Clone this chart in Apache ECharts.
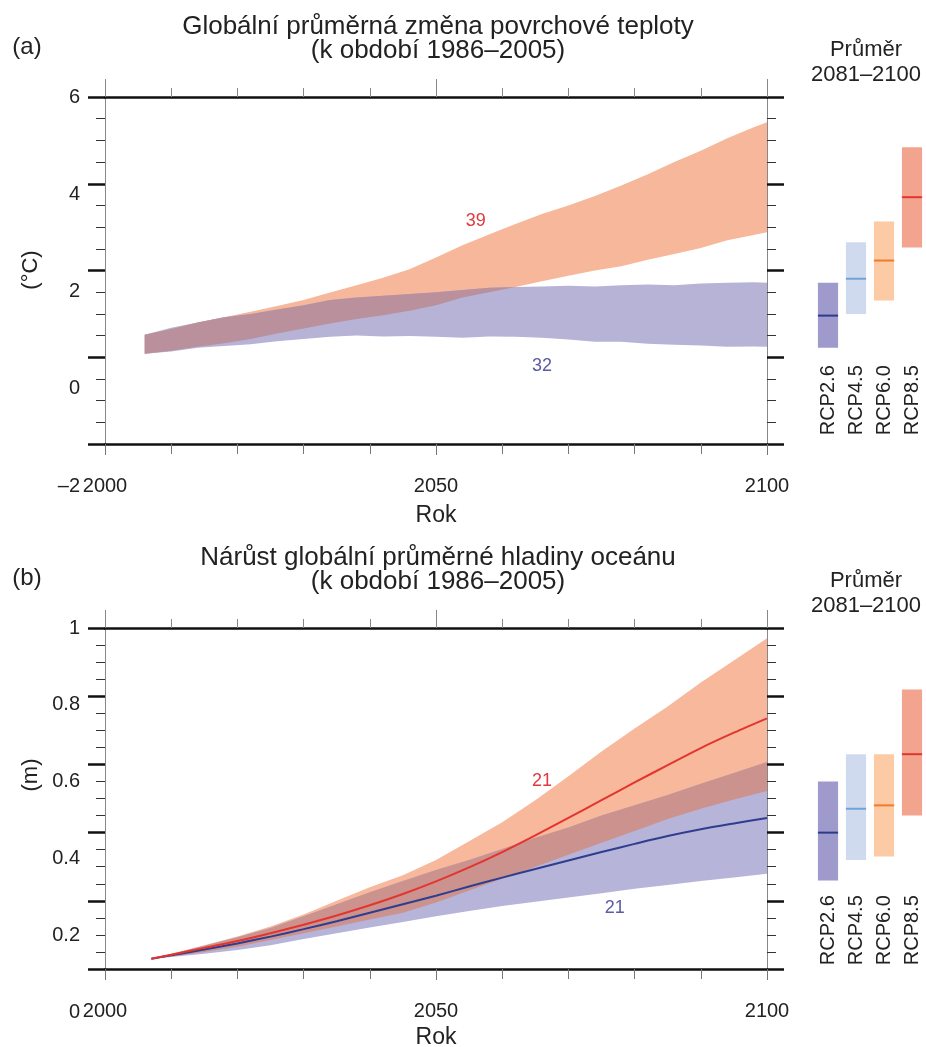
<!DOCTYPE html>
<html>
<head>
<meta charset="utf-8">
<script src="https://cdn.jsdelivr.net/npm/echarts@6/dist/echarts.min.js"></script>
<style>
  html, body { margin: 0; padding: 0; background: #fff; }
  #chart { width: 926px; height: 1047px; }
</style>
</head>
<body>
<div id="chart"></div>
<script>
// (a) temperature bands
const tempYears = [2006, 2010, 2014, 2018, 2022, 2026, 2030, 2034, 2038, 2042, 2046, 2050, 2054, 2058, 2062, 2066, 2070, 2074, 2078, 2082, 2086, 2090, 2094, 2098, 2100];
const rcp85High = [0.52, 0.65, 0.80, 0.92, 1.05, 1.18, 1.32, 1.49, 1.66, 1.83, 2.03, 2.30, 2.58, 2.83, 3.07, 3.30, 3.50, 3.72, 3.96, 4.22, 4.50, 4.76, 5.05, 5.30, 5.42];
const rcp85Low = [0.08, 0.15, 0.24, 0.32, 0.42, 0.55, 0.66, 0.78, 0.88, 0.97, 1.07, 1.20, 1.38, 1.50, 1.62, 1.75, 1.88, 2.00, 2.10, 2.25, 2.38, 2.52, 2.70, 2.82, 2.88];
const rcp26High = [0.52, 0.68, 0.80, 0.92, 1.00, 1.10, 1.20, 1.32, 1.38, 1.42, 1.46, 1.50, 1.55, 1.60, 1.62, 1.63, 1.65, 1.63, 1.66, 1.68, 1.66, 1.70, 1.72, 1.73, 1.72];
const rcp26Low = [0.08, 0.13, 0.22, 0.26, 0.30, 0.37, 0.42, 0.47, 0.50, 0.48, 0.49, 0.47, 0.45, 0.48, 0.47, 0.45, 0.41, 0.36, 0.36, 0.31, 0.29, 0.27, 0.24, 0.25, 0.24];

// (b) sea level bands and means
const slrYears = [2007, 2010, 2015, 2020, 2025, 2030, 2035, 2040, 2045, 2050, 2055, 2060, 2065, 2070, 2075, 2080, 2085, 2090, 2095, 2100];
const slr85Mean = [0.03, 0.042, 0.062, 0.082, 0.105, 0.13, 0.157, 0.187, 0.22, 0.257, 0.298, 0.343, 0.392, 0.443, 0.495, 0.547, 0.598, 0.648, 0.693, 0.735];
const slr85High = [0.03, 0.045, 0.07, 0.095, 0.125, 0.16, 0.20, 0.24, 0.275, 0.32, 0.375, 0.43, 0.495, 0.565, 0.638, 0.705, 0.77, 0.84, 0.905, 0.97];
const slr85Low = [0.03, 0.037, 0.05, 0.065, 0.085, 0.105, 0.125, 0.145, 0.165, 0.195, 0.23, 0.265, 0.30, 0.335, 0.37, 0.405, 0.44, 0.47, 0.497, 0.522];
const slr26Mean = [0.03, 0.04, 0.057, 0.075, 0.095, 0.117, 0.14, 0.165, 0.19, 0.215, 0.242, 0.268, 0.293, 0.318, 0.343, 0.367, 0.39, 0.41, 0.427, 0.443];
const slr26High = [0.03, 0.043, 0.068, 0.093, 0.12, 0.155, 0.19, 0.225, 0.258, 0.29, 0.32, 0.352, 0.385, 0.415, 0.45, 0.48, 0.51, 0.543, 0.575, 0.607];
const slr26Low = [0.03, 0.035, 0.045, 0.056, 0.07, 0.088, 0.105, 0.122, 0.138, 0.155, 0.17, 0.185, 0.197, 0.21, 0.222, 0.235, 0.246, 0.258, 0.268, 0.279];

// 2081-2100 mean bars
const scenarios = ['RCP2.6', 'RCP4.5', 'RCP6.0', 'RCP8.5'];
const tempBarLow = [0.22, 1.0, 1.31, 2.53];
const tempBarMean = [0.96, 1.81, 2.23, 3.69];
const tempBarHigh = [1.72, 2.65, 3.13, 4.84];
const slrBarLow = [0.26, 0.32, 0.33, 0.45];
const slrBarMean = [0.40, 0.47, 0.48, 0.63];
const slrBarHigh = [0.55, 0.63, 0.63, 0.82];

// model counts written in the plots
const tempNotes = [['39', 2056, 3.15, '#e0393e'], ['32', 2066, -0.2, '#5a5aa5']];
const slrNotes = [['21', 2066, 0.551, '#e0393e'], ['21', 2077, 0.179, '#5a5aa5']];

const FONT = '"Liberation Sans", Arial, Helvetica, sans-serif';
const barFill = ['#9e9acb', '#cfdaef', '#fccba6', '#f3a48f'];
const barLine = ['#2f3a8c', '#6fa3d8', '#f27b2a', '#e3342e'];

const chart = echarts.init(document.getElementById('chart'));
const grids = [], xAxes = [], yAxes = [], series = [], graphics = [];

// a filled band between two edges, drawn as one polygon through the axes
function band(xi, yi, years, low, high, color, z) {
    return {
        type: 'custom', xAxisIndex: xi, yAxisIndex: yi, z: z, silent: true,
        data: years.map((y, i) => [y, low[i], high[i]]),
        encode: { x: 0, y: [1, 2] },
        renderItem: function (params, api) {
            if (params.dataIndex !== 0) return null;
            const pts = [];
            years.forEach((y, i) => pts.push(api.coord([y, high[i]])));
            for (let i = years.length - 1; i >= 0; i--) pts.push(api.coord([years[i], low[i]]));
            return { type: 'polygon', shape: { points: pts }, style: { fill: color } };
        }
    };
}

function renderRange(params, api) {
    const lo = api.coord([api.value(0), api.value(1)]);
    const mid = api.coord([api.value(0), api.value(2)]);
    const hi = api.coord([api.value(0), api.value(3)]);
    const w = api.size([1, 0])[0] * 0.72;
    const i = params.dataIndex;
    return {
        type: 'group',
        children: [
            { type: 'rect', shape: { x: hi[0] - w / 2, y: hi[1], width: w, height: lo[1] - hi[1] }, style: { fill: barFill[i] } },
            { type: 'line', shape: { x1: mid[0] - w / 2, y1: mid[1], x2: mid[0] + w / 2, y2: mid[1] }, style: { stroke: barLine[i], lineWidth: 2 } }
        ]
    };
}

function addPanel(p) {
    const gi = grids.length, xi = xAxes.length, yi = yAxes.length;
    grids.push({ left: 105, top: p.top, width: 662, height: p.height, outerBoundsMode: 'none' });
    grids.push({ left: 105, top: p.top, width: 662, height: p.labelHeight, outerBoundsMode: 'none' });
    grids.push({ left: 814, top: p.top, width: 112, height: p.barHeight, outerBoundsMode: 'none' });

    // year axes, bottom with labels, top with ticks only
    xAxes.push({
        type: 'value', gridIndex: gi, min: 2000, max: 2100, interval: 50, position: 'bottom',
        name: 'Rok', nameLocation: 'middle', nameGap: p.nameGap,
        nameTextStyle: { fontSize: 23, color: '#222', fontFamily: FONT },
        axisLine: { onZero: false, lineStyle: { color: '#111', width: 2.5 } },
        axisTick: { length: 11, lineStyle: { color: '#777', width: 1 } },
        minorTick: { show: true, splitNumber: 5, length: 10, lineStyle: { color: '#777', width: 1 } },
        axisLabel: { fontSize: 20, color: '#222', fontFamily: FONT, margin: 32, formatter: v => String(v) },
        splitLine: { show: false }
    });
    xAxes.push({
        type: 'value', gridIndex: gi, min: 2000, max: 2100, interval: 50, position: 'top',
        axisLine: { onZero: false, lineStyle: { color: '#111', width: 2.5 } },
        axisTick: { length: 18, lineStyle: { color: '#888', width: 1 } },
        minorTick: { show: true, splitNumber: 5, length: 9, lineStyle: { color: '#888', width: 1 } },
        axisLabel: { show: false }, splitLine: { show: false }
    });
    xAxes.push({ type: 'value', gridIndex: gi + 1, min: 2000, max: 2100, show: false });
    xAxes.push({
        type: 'category', gridIndex: gi + 2, data: scenarios, position: 'bottom',
        axisLine: { show: false }, axisTick: { show: false },
        axisLabel: { rotate: 90, fontSize: 20, color: '#222', fontFamily: FONT, margin: 8 }
    });

    const yTick = {
        type: 'value', gridIndex: gi, min: p.min, max: p.max, interval: p.step,
        axisLine: { show: true, onZero: false, lineStyle: { color: '#888', width: 1 } },
        axisTick: { show: true, length: 17, lineStyle: { color: '#111', width: 2.5 } },
        minorTick: { show: true, splitNumber: 4, length: 9, lineStyle: { color: '#333', width: 1 } },
        axisLabel: { show: false }, splitLine: { show: false }
    };
    yAxes.push(Object.assign({ position: 'left' }, yTick));
    yAxes.push(Object.assign({ position: 'right' }, yTick));
    // tick labels sit on their own, wider spacing, as in the source figure
    yAxes.push({
        type: 'value', gridIndex: gi + 1, min: p.min, max: p.max, interval: p.step, position: 'left',
        axisLine: { show: false }, axisTick: { show: false }, splitLine: { show: false },
        axisLabel: { fontSize: 20, color: '#222', fontFamily: FONT, margin: 25, formatter: p.fmt }
    });
    yAxes.push({ type: 'value', gridIndex: gi + 2, min: p.barMin, max: p.max, show: false });

    series.push(band(xi, yi, p.years, p.redLow, p.redHigh, p.orange, 1));
    series.push(band(xi, yi, p.years, p.blueLow, p.blueHigh, p.purple, 2));
    const ovLow = p.years.map((y, i) => Math.max(p.redLow[i], p.blueLow[i]));
    const ovHigh = p.years.map((y, i) => Math.max(ovLow[i], Math.min(p.redHigh[i], p.blueHigh[i])));
    series.push(band(xi, yi, p.years, ovLow, ovHigh, p.overlap, 3));

    if (p.redMean) {
        series.push({
            type: 'line', xAxisIndex: xi, yAxisIndex: yi, z: 5, smooth: 0.3, symbol: 'none',
            data: p.years.map((y, i) => [y, p.blueMean[i]]), lineStyle: { color: '#2f3d8f', width: 2 }
        });
        series.push({
            type: 'line', xAxisIndex: xi, yAxisIndex: yi, z: 6, smooth: 0.3, symbol: 'none',
            data: p.years.map((y, i) => [y, p.redMean[i]]), lineStyle: { color: '#e4342f', width: 2 }
        });
    }
    series.push({
        type: 'custom', xAxisIndex: xi, yAxisIndex: yi, z: 7, silent: true,
        data: p.notes.map(n => [n[1], n[2]]),
        renderItem: function (params, api) {
            const n = p.notes[params.dataIndex];
            const c = api.coord([api.value(0), api.value(1)]);
            return { type: 'text', x: c[0], y: c[1], style: { text: n[0], fill: n[3], font: '18px ' + FONT, align: 'center', verticalAlign: 'middle' } };
        }
    });
    series.push({
        type: 'custom', xAxisIndex: xi + 3, yAxisIndex: yi + 3, renderItem: renderRange,
        encode: { x: 0, y: [1, 2, 3] },
        data: scenarios.map((s, i) => [i, p.barLow[i], p.barMean[i], p.barHigh[i]])
    });

    const txt = (text, x, y, size, extra) => graphics.push(Object.assign({
        type: 'text', x: x, y: y,
        style: { text: text, fill: '#222', font: size + 'px ' + FONT, align: 'center', verticalAlign: 'middle' }
    }, extra || {}));
    txt(p.title1, 438, p.top - 70, 26);
    txt(p.title2, 438, p.top - 46, 26);
    txt(p.tag, 27, p.top - 50, 24);
    txt('Průměr', 866, p.top - 47, 22);
    txt('2081\u20132100', 866, p.top - 22, 22);
    txt(p.unit, 31, p.unitY, 22, { rotation: Math.PI / 2 });
}

addPanel({
    top: 97, height: 347, labelHeight: 389, barHeight: 260.25, nameGap: 60,
    min: -2, max: 6, step: 2, barMin: 0,
    fmt: v => v < 0 ? '\u2013' + (-v) : String(v),
    years: tempYears, redLow: rcp85Low, redHigh: rcp85High, blueLow: rcp26Low, blueHigh: rcp26High,
    orange: '#f7b79a', purple: '#b6b3d7', overlap: '#b9909c',
    notes: tempNotes, barLow: tempBarLow, barMean: tempBarMean, barHigh: tempBarHigh,
    title1: 'Globální průměrná změna povrchové teploty', title2: '(k období 1986\u20132005)',
    tag: '(a)', unit: '(°C)', unitY: 270
});
addPanel({
    top: 628, height: 341, labelHeight: 384, barHeight: 259.2, nameGap: 57,
    min: 0, max: 1, step: 0.2, barMin: 0.24,
    fmt: v => String(Math.round(v * 10) / 10),
    years: slrYears, redLow: slr85Low, redHigh: slr85High, blueLow: slr26Low, blueHigh: slr26High,
    redMean: slr85Mean, blueMean: slr26Mean,
    orange: '#f7b89c', purple: '#b7b4d9', overlap: '#cc928d',
    notes: slrNotes, barLow: slrBarLow, barMean: slrBarMean, barHigh: slrBarHigh,
    title1: 'Nárůst globální průměrné hladiny oceánu', title2: '(k období 1986\u20132005)',
    tag: '(b)', unit: '(m)', unitY: 775
});

chart.setOption({
    backgroundColor: '#fff',
    animation: false,
    grid: grids,
    xAxis: xAxes,
    yAxis: yAxes,
    series: series,
    graphic: graphics
});
</script>
</body>
</html>
